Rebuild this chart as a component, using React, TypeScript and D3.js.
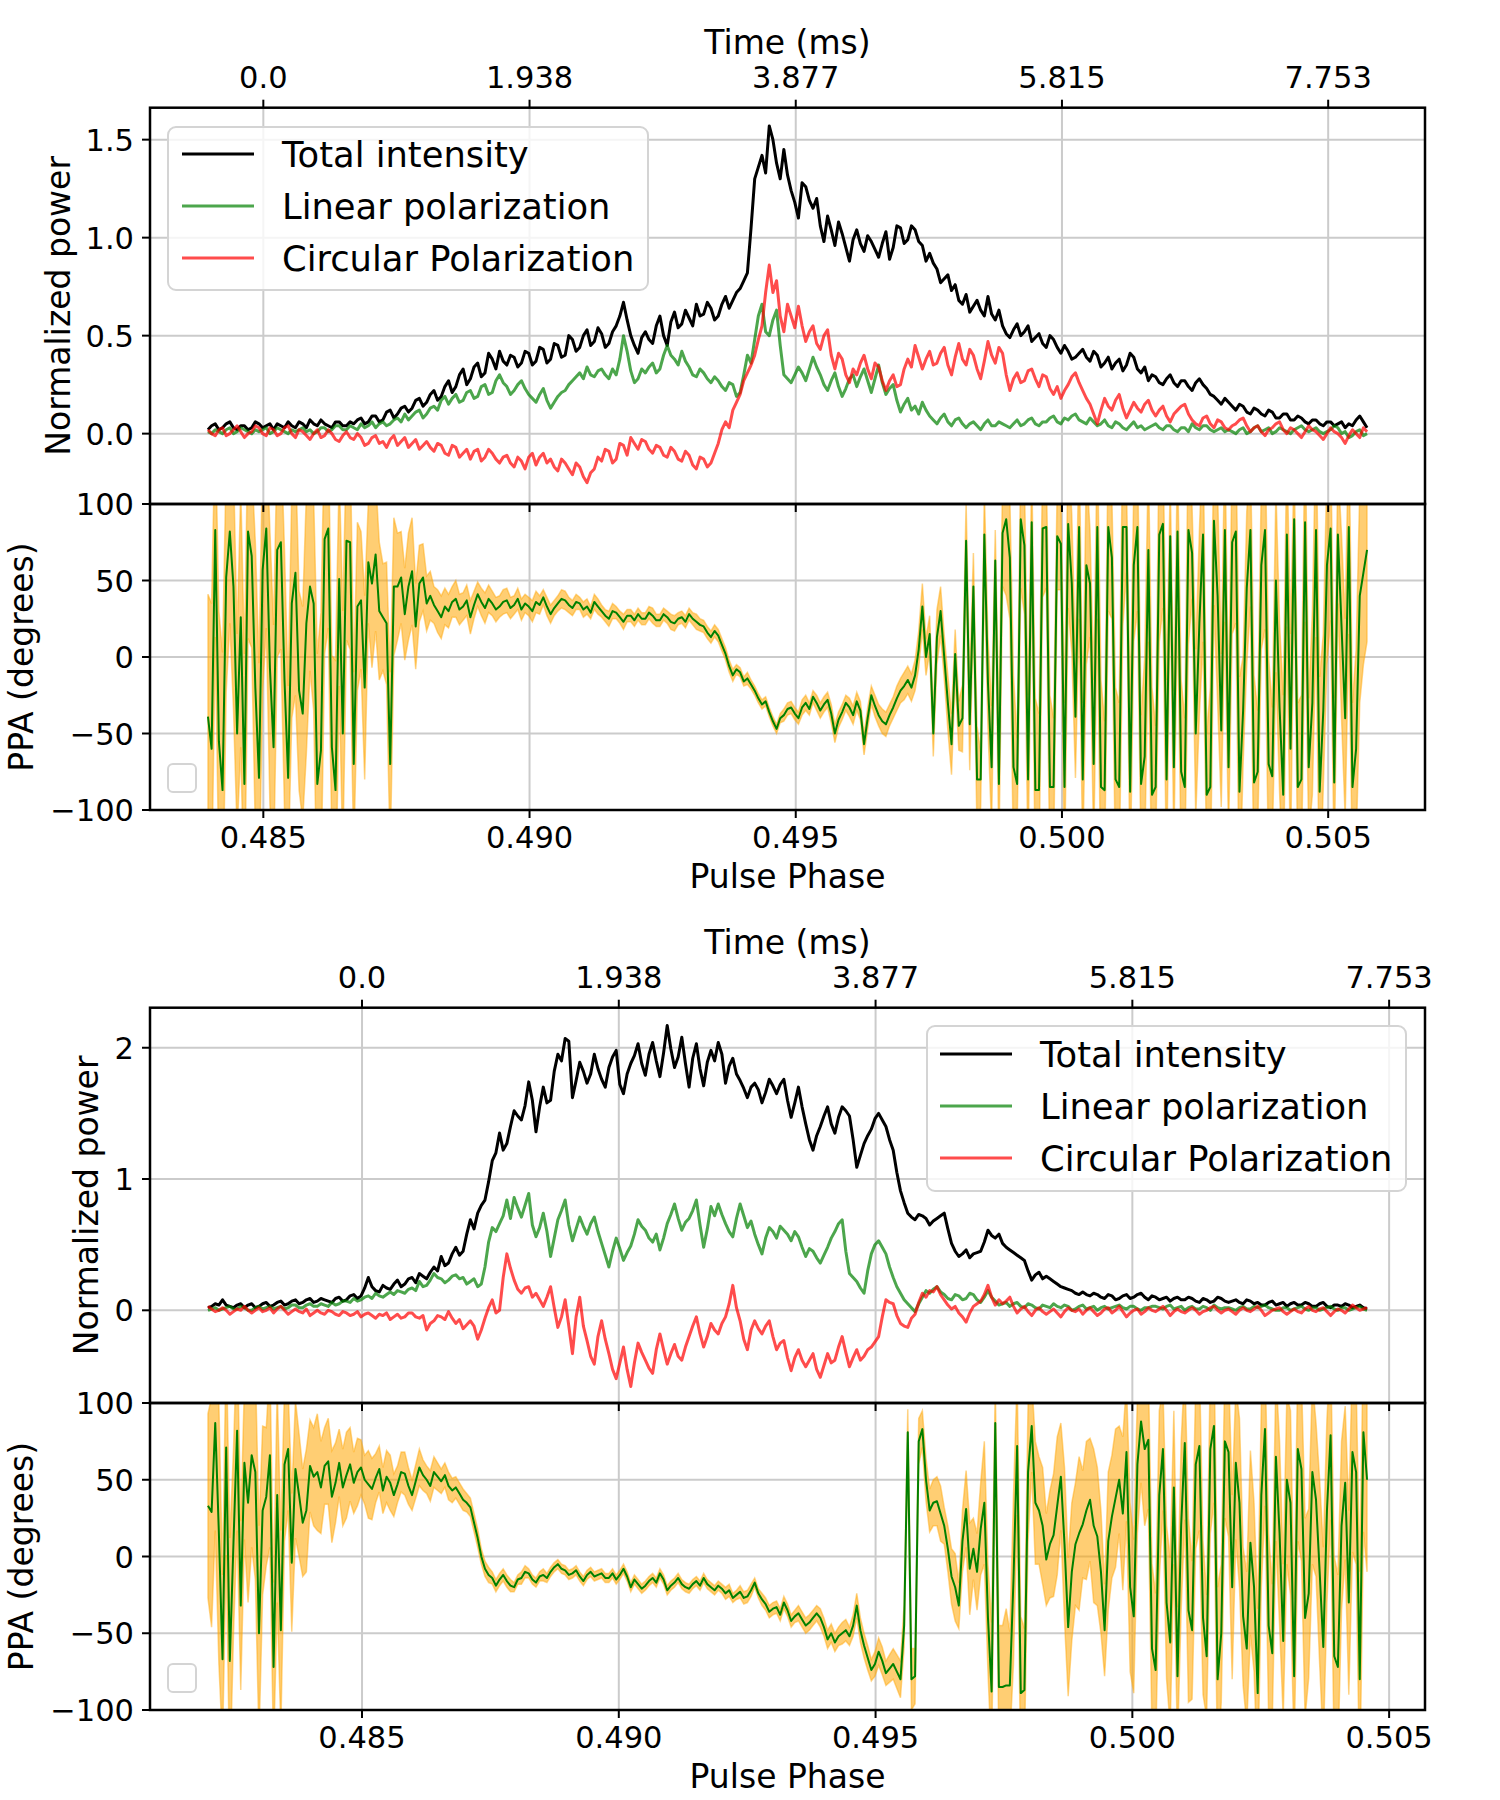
import * as d3 from "d3";
import { useEffect, useRef } from "react";

// ---------- data ----------
const SERIES_NAMES = ["Total intensity", "Linear polarization", "Circular Polarization"];
const PHASE_TICKS = [0.485, 0.49, 0.495, 0.5, 0.505];
const PHASE_TICK_LABELS = ["0.485", "0.490", "0.495", "0.500", "0.505"];
const TIME_TICK_LABELS = ["0.0", "1.938", "3.877", "5.815", "7.753"];
const PPA_TICKS = [-100, -50, 0, 50, 100];
const PPA_TICK_LABELS = ["\u2212100", "\u221250", "0", "50", "100"];

// upper figure
const TOP_PHASE_RANGE = [0.48396, 0.50573];
const TOP_POWER_DOMAIN = [-0.359, 1.663];
const TOP_POWER_TICKS = [0, 0.5, 1.0, 1.5];
const TOP_POWER_TICK_LABELS = ["0.0", "0.5", "1.0", "1.5"];

const TOP_I = [
  0.02, 0.04, 0.05, 0.02, 0.03, 0.05, 0.06, 0.03, 0.02, 0.04, 0.04, 0.02, 0.03, 0.06, 0.05, 0.03, 0.04, 0.05, 0.02, 0.05,
  0.04, 0.03, 0.06, 0.04, 0.03, 0.06, 0.05, 0.03, 0.07, 0.05, 0.04, 0.07, 0.05, 0.04, 0.03, 0.06, 0.06, 0.04, 0.04, 0.06,
  0.05, 0.07, 0.08, 0.05, 0.06, 0.09, 0.09, 0.06, 0.07, 0.11, 0.12, 0.08, 0.10, 0.13, 0.14, 0.11, 0.13, 0.17, 0.18, 0.14,
  0.16, 0.20, 0.22, 0.17, 0.19, 0.24, 0.27, 0.21, 0.24, 0.30, 0.33, 0.25, 0.28, 0.34, 0.36, 0.29, 0.31, 0.41, 0.38, 0.33,
  0.42, 0.37, 0.35, 0.40, 0.39, 0.34, 0.36, 0.42, 0.41, 0.35, 0.37, 0.44, 0.43, 0.36, 0.38, 0.46, 0.45, 0.39, 0.40, 0.50,
  0.48, 0.42, 0.44, 0.50, 0.53, 0.45, 0.47, 0.54, 0.51, 0.44, 0.46, 0.52, 0.55, 0.60, 0.67, 0.58, 0.50, 0.45, 0.41, 0.49,
  0.52, 0.48, 0.46, 0.55, 0.60, 0.50, 0.45, 0.57, 0.62, 0.54, 0.56, 0.63, 0.59, 0.55, 0.66, 0.60, 0.61, 0.67, 0.64, 0.58,
  0.60, 0.66, 0.70, 0.64, 0.68, 0.72, 0.74, 0.78, 0.82, 1.05, 1.30, 1.36, 1.42, 1.33, 1.57, 1.50, 1.38, 1.30, 1.45, 1.32,
  1.24, 1.18, 1.10, 1.28, 1.26, 1.19, 1.15, 1.20, 1.06, 0.98, 1.11, 1.04, 0.96, 1.08, 1.02, 0.95, 0.88, 0.99, 1.04, 0.97,
  0.93, 1.01, 0.98, 0.94, 0.90, 0.97, 1.03, 0.89, 0.95, 1.06, 1.05, 0.97, 0.99, 1.06, 1.04, 0.98, 0.96, 0.88, 0.92, 0.87,
  0.84, 0.77, 0.79, 0.81, 0.73, 0.76, 0.68, 0.66, 0.71, 0.62, 0.65, 0.68, 0.63, 0.60, 0.70, 0.61, 0.58, 0.63, 0.55, 0.51,
  0.49, 0.53, 0.56, 0.50, 0.52, 0.55, 0.47, 0.49, 0.51, 0.46, 0.44, 0.50, 0.48, 0.44, 0.41, 0.45, 0.42, 0.38, 0.39, 0.41,
  0.43, 0.39, 0.37, 0.42, 0.40, 0.34, 0.36, 0.39, 0.33, 0.36, 0.38, 0.32, 0.35, 0.41, 0.39, 0.33, 0.31, 0.34, 0.27, 0.30,
  0.29, 0.26, 0.25, 0.28, 0.30, 0.26, 0.24, 0.27, 0.27, 0.24, 0.22, 0.26, 0.28, 0.25, 0.23, 0.20, 0.19, 0.17, 0.15, 0.18,
  0.16, 0.14, 0.12, 0.15, 0.14, 0.11, 0.10, 0.13, 0.12, 0.10, 0.09, 0.12, 0.11, 0.08, 0.08, 0.10, 0.10, 0.07, 0.07, 0.09,
  0.08, 0.06, 0.05, 0.07, 0.07, 0.05, 0.04, 0.06, 0.06, 0.04, 0.05, 0.06, 0.03, 0.05, 0.04, 0.07, 0.09, 0.06, 0.03,
];

const TOP_L = [
  0.01, 0.00, 0.02, 0.01, 0.00, 0.02, 0.03, 0.00, 0.01, 0.03, 0.02, 0.01, 0.00, 0.02, 0.01, 0.02, 0.03, 0.00, 0.01, 0.03,
  0.02, 0.01, 0.00, 0.02, 0.01, 0.02, 0.03, 0.01, 0.02, 0.00, 0.01, 0.03, 0.03, 0.01, 0.02, 0.04, 0.04, 0.02, 0.02, 0.04,
  0.03, 0.02, 0.05, 0.03, 0.04, 0.06, 0.03, 0.05, 0.06, 0.04, 0.05, 0.07, 0.08, 0.06, 0.10, 0.07, 0.09, 0.11, 0.12, 0.08,
  0.10, 0.13, 0.14, 0.12, 0.17, 0.19, 0.15, 0.18, 0.20, 0.16, 0.17, 0.21, 0.22, 0.18, 0.19, 0.24, 0.25, 0.20, 0.21, 0.27,
  0.30, 0.26, 0.24, 0.20, 0.22, 0.25, 0.27, 0.23, 0.20, 0.18, 0.16, 0.20, 0.23, 0.17, 0.13, 0.16, 0.19, 0.21, 0.22, 0.25,
  0.27, 0.29, 0.31, 0.28, 0.34, 0.30, 0.29, 0.32, 0.33, 0.30, 0.28, 0.33, 0.30, 0.38, 0.50, 0.42, 0.32, 0.26, 0.28, 0.33,
  0.31, 0.34, 0.36, 0.31, 0.33, 0.40, 0.45, 0.40, 0.38, 0.35, 0.42, 0.37, 0.34, 0.30, 0.29, 0.33, 0.31, 0.28, 0.26, 0.29,
  0.27, 0.24, 0.22, 0.26, 0.25, 0.19, 0.21, 0.30, 0.40, 0.36, 0.48, 0.60, 0.66, 0.52, 0.50, 0.58, 0.63, 0.45, 0.30, 0.28,
  0.26, 0.30, 0.34, 0.31, 0.27, 0.33, 0.39, 0.34, 0.30, 0.25, 0.22, 0.27, 0.31, 0.24, 0.19, 0.23, 0.28, 0.30, 0.24, 0.29,
  0.33, 0.27, 0.21, 0.28, 0.35, 0.26, 0.20, 0.23, 0.25, 0.17, 0.11, 0.15, 0.18, 0.12, 0.14, 0.10, 0.16, 0.12, 0.09, 0.07,
  0.05, 0.08, 0.10, 0.06, 0.04, 0.07, 0.08, 0.05, 0.03, 0.05, 0.06, 0.04, 0.02, 0.05, 0.07, 0.04, 0.04, 0.06, 0.05, 0.04,
  0.03, 0.05, 0.07, 0.04, 0.05, 0.07, 0.08, 0.05, 0.04, 0.06, 0.06, 0.08, 0.09, 0.06, 0.05, 0.08, 0.07, 0.09, 0.10, 0.07,
  0.06, 0.05, 0.08, 0.06, 0.04, 0.05, 0.07, 0.04, 0.03, 0.06, 0.05, 0.03, 0.02, 0.04, 0.06, 0.03, 0.04, 0.02, 0.03, 0.04,
  0.05, 0.03, 0.02, 0.04, 0.04, 0.02, 0.01, 0.03, 0.03, 0.01, 0.05, 0.03, 0.02, 0.04, 0.04, 0.02, 0.01, 0.02, 0.03, 0.01,
  0.02, 0.01, 0.00, 0.02, 0.03, 0.00, 0.01, 0.03, 0.04, 0.01, 0.02, 0.03, 0.00, 0.01, 0.03, 0.02, 0.01, 0.00, 0.02, 0.03,
  0.04, 0.02, 0.01, 0.02, 0.03, 0.01, 0.00, 0.01, 0.02, 0.04, 0.03, 0.00, 0.01, -0.02, -0.01, 0.01, 0.02, -0.01, 0.00,
];

const TOP_V = [
  0.02, 0.00, -0.01, 0.02, 0.03, -0.01, 0.00, 0.02, 0.04, 0.01, -0.02, 0.00, 0.01, 0.04, 0.03, 0.00, -0.01, 0.03, 0.02, -0.01,
  0.00, 0.03, 0.04, 0.00, -0.02, 0.02, 0.01, -0.01, -0.03, 0.00, 0.02, -0.02, -0.01, 0.02, 0.00, -0.03, -0.04, -0.01, 0.01, -0.02,
  -0.03, 0.00, -0.02, -0.06, -0.05, -0.02, -0.01, -0.05, -0.04, -0.07, -0.03, -0.01, -0.06, -0.04, -0.02, -0.07, -0.05, -0.03, -0.08, -0.06,
  -0.04, -0.07, -0.09, -0.05, -0.06, -0.10, -0.11, -0.06, -0.07, -0.12, -0.10, -0.08, -0.13, -0.09, -0.08, -0.14, -0.12, -0.08, -0.10, -0.13,
  -0.15, -0.12, -0.11, -0.15, -0.17, -0.12, -0.14, -0.18, -0.12, -0.10, -0.16, -0.12, -0.10, -0.15, -0.13, -0.17, -0.19, -0.13, -0.15, -0.18,
  -0.21, -0.15, -0.17, -0.22, -0.25, -0.20, -0.18, -0.12, -0.14, -0.08, -0.09, -0.15, -0.13, -0.05, -0.06, -0.11, -0.02, -0.05, -0.08, -0.03,
  -0.04, -0.08, -0.10, -0.06, -0.07, -0.11, -0.12, -0.07, -0.09, -0.13, -0.14, -0.09, -0.11, -0.16, -0.18, -0.12, -0.13, -0.17, -0.15, -0.10,
  -0.05, 0.02, 0.06, 0.03, 0.12, 0.16, 0.20, 0.27, 0.31, 0.35, 0.40, 0.48, 0.55, 0.72, 0.86, 0.72, 0.78, 0.60, 0.52, 0.66,
  0.60, 0.54, 0.65, 0.55, 0.47, 0.52, 0.55, 0.46, 0.43, 0.50, 0.53, 0.40, 0.33, 0.41, 0.38, 0.30, 0.26, 0.33, 0.30, 0.36,
  0.40, 0.33, 0.28, 0.36, 0.34, 0.27, 0.22, 0.27, 0.30, 0.24, 0.25, 0.33, 0.38, 0.34, 0.45, 0.39, 0.33, 0.38, 0.42, 0.35,
  0.36, 0.41, 0.44, 0.35, 0.30, 0.39, 0.46, 0.38, 0.35, 0.43, 0.40, 0.33, 0.28, 0.37, 0.47, 0.40, 0.36, 0.44, 0.41, 0.30,
  0.22, 0.28, 0.31, 0.26, 0.27, 0.32, 0.33, 0.28, 0.24, 0.30, 0.29, 0.23, 0.20, 0.24, 0.18, 0.22, 0.25, 0.29, 0.31, 0.26,
  0.22, 0.18, 0.15, 0.10, 0.05, 0.12, 0.18, 0.14, 0.12, 0.17, 0.20, 0.13, 0.08, 0.12, 0.16, 0.13, 0.11, 0.15, 0.17, 0.12,
  0.09, 0.12, 0.14, 0.09, 0.06, 0.10, 0.12, 0.14, 0.15, 0.10, 0.07, 0.05, 0.04, 0.08, 0.09, 0.05, 0.03, 0.07, 0.06, 0.03,
  0.02, 0.04, 0.05, 0.07, 0.08, 0.04, 0.01, 0.03, 0.04, 0.01, -0.01, 0.02, 0.03, 0.05, 0.06, 0.02, 0.00, 0.03, 0.02, 0.00,
  -0.02, 0.01, 0.04, 0.02, 0.01, -0.01, -0.03, 0.00, 0.03, 0.01, 0.00, -0.02, -0.05, -0.01, 0.02, 0.00, -0.02, 0.03, 0.01,
];

const TOP_PPA = [
  -39, -60, 83, -55, -87, 52, 82, 46, -50, 26, -83, 82, 66, -20, -79, 57, 84, -7, -59, 70,
  75, -15, -79, 35, 55, -22, -37, 22, 46, 35, -83, -61, 77, 84, -59, -87, 51, -50, 76, 75,
  -70, 33, 37, -20, 62, 48, 67, 30, 26, 22, -70, 46, 46, 52, 28, 46, 56, 20, 48, 52,
  35, 40, 34, 30, 26, 33, 30, 36, 38, 31, 33, 37, 26, 34, 41, 36, 32, 38, 35, 31,
  33, 36, 37, 32, 34, 38, 31, 35, 33, 30, 36, 34, 39, 33, 28, 32, 35, 38, 37, 34,
  32, 36, 35, 31, 33, 29, 36, 33, 30, 27, 25, 30, 29, 26, 23, 27, 27, 24, 28, 25,
  25, 29, 27, 24, 24, 28, 26, 23, 22, 25, 26, 23, 28, 25, 23, 21, 20, 16, 13, 17,
  14, 8, 2, -6, -12, -8, -10, -16, -14, -18, -22, -27, -31, -29, -36, -42, -47, -40, -38, -34,
  -33, -37, -40, -33, -30, -34, -26, -30, -35, -31, -28, -37, -50, -41, -36, -30, -33, -38, -29, -35,
  -57, -40, -25, -32, -38, -42, -44, -38, -33, -27, -22, -19, -15, -20, -12, 5, 33, 0, 15, -50,
  13, 30, 0, -30, -57, 2, -45, -40, 76, -44, 46, -80, -80, 80, -17, -72, 63, -83, 81, 90,
  65, -72, -83, 90, 73, -80, 88, -87, -87, 84, 85, -85, -85, 79, 74, -85, 87, 48, -39, 85,
  -80, 60, 48, -70, 85, -85, -87, 85, 65, -80, -85, 85, 85, -88, 60, 85, -83, -65, 70, -90,
  -85, 80, 87, -80, 79, -72, 82, -75, -85, 83, 68, -50, 22, 80, -90, -85, 89, 40, -48, 83,
  -72, 75, 82, -88, -35, 45, 83, -82, -75, 60, 83, -70, -78, 50, -33, -90, 80, -60, 90, -85,
  -80, 88, -72, -30, 83, -88, -35, 60, 84, -82, 80, 20, -40, 85, -85, -60, 40, 55, 70,
];

const TOP_PPA_ERR = [
  80, 95, 70, 85, 90, 75, 60, 80, 65, 85, 85, 70, 60, 95, 75, 80, 65, 90, 80, 70,
  70, 85, 60, 75, 80, 65, 70, 85, 55, 70, 85, 90, 75, 65, 60, 85, 70, 80, 65, 70,
  60, 55, 45, 60, 40, 55, 50, 45, 35, 40, 60, 45, 35, 30, 30, 35, 35, 28, 25, 22,
  18, 16, 12, 14, 14, 12, 11, 10, 12, 10, 9, 10, 11, 9, 8, 9, 10, 9, 8, 8,
  7, 8, 8, 7, 6, 7, 7, 6, 6, 7, 7, 6, 5, 6, 6, 5, 5, 6, 6, 5,
  5, 5, 4, 5, 5, 4, 5, 5, 4, 4, 5, 5, 4, 4, 5, 4, 4, 4, 4, 4,
  4, 4, 5, 4, 4, 4, 4, 5, 5, 4, 4, 4, 4, 4, 5, 4, 4, 4, 4, 4,
  4, 4, 4, 4, 4, 3, 3, 3, 4, 3, 3, 3, 3, 3, 3, 3, 3, 3, 4, 4,
  4, 4, 4, 5, 5, 4, 4, 5, 5, 5, 5, 6, 6, 5, 5, 5, 6, 6, 6, 6,
  7, 7, 6, 7, 7, 8, 8, 7, 7, 8, 8, 9, 9, 9, 10, 12, 15, 12, 12, 15,
  18, 16, 14, 18, 20, 16, 16, 22, 25, 30, 22, 35, 18, 30, 30, 40, 20, 45, 35, 50,
  40, 60, 30, 45, 45, 55, 35, 60, 50, 45, 40, 60, 45, 35, 30, 55, 55, 45, 40, 60,
  50, 65, 35, 55, 60, 70, 45, 55, 40, 60, 55, 65, 30, 60, 50, 55, 45, 65, 60, 70,
  40, 70, 55, 65, 35, 50, 50, 60, 45, 75, 30, 55, 60, 70, 40, 65, 55, 70, 50, 60,
  45, 60, 60, 75, 35, 50, 50, 70, 40, 55, 65, 70, 45, 60, 55, 65, 60, 75, 40, 55,
  55, 65, 45, 60, 70, 75, 50, 65, 60, 55, 45, 60, 65, 70, 55, 65, 70, 60, 60,
];

// lower figure
const BOT_PHASE_RANGE = [0.482, 0.50457];
const BOT_POWER_DOMAIN = [-0.706, 2.305];
const BOT_POWER_TICKS = [0, 1, 2];
const BOT_POWER_TICK_LABELS = ["0", "1", "2"];

const BOT_I = [
  0.02, 0.03, 0.05, 0.04, 0.08, 0.04, 0.03, 0.02, 0.04, 0.05, 0.02, 0.04, 0.05, 0.02, 0.03, 0.05, 0.06, 0.03, 0.04, 0.06,
  0.07, 0.04, 0.05, 0.07, 0.08, 0.05, 0.06, 0.08, 0.09, 0.06, 0.07, 0.09, 0.08, 0.07, 0.06, 0.09, 0.10, 0.07, 0.08, 0.11,
  0.12, 0.09, 0.11, 0.17, 0.25, 0.18, 0.15, 0.14, 0.19, 0.17, 0.16, 0.20, 0.23, 0.18, 0.20, 0.24, 0.25, 0.21, 0.28, 0.26,
  0.24, 0.29, 0.33, 0.30, 0.41, 0.34, 0.36, 0.43, 0.48, 0.42, 0.45, 0.58, 0.69, 0.62, 0.74, 0.80, 0.84, 0.98, 1.14, 1.20,
  1.35, 1.22, 1.27, 1.40, 1.52, 1.48, 1.45, 1.56, 1.74, 1.60, 1.36, 1.55, 1.70, 1.58, 1.60, 1.82, 1.95, 1.90, 2.07, 2.05,
  1.62, 1.75, 1.89, 1.82, 1.73, 1.80, 1.95, 1.84, 1.76, 1.70, 1.85, 1.93, 1.98, 1.72, 1.65, 1.80, 1.88, 1.94, 2.03, 1.88,
  1.79, 1.95, 2.04, 1.90, 1.78, 1.96, 2.17, 1.99, 1.85, 1.93, 2.08, 1.88, 1.70, 1.92, 2.03, 1.84, 1.71, 1.89, 1.98, 1.90,
  2.04, 1.95, 1.73, 1.86, 1.92, 1.80, 1.75, 1.69, 1.62, 1.70, 1.73, 1.68, 1.58, 1.66, 1.76, 1.71, 1.65, 1.72, 1.76, 1.60,
  1.47, 1.58, 1.70, 1.55, 1.42, 1.30, 1.22, 1.33, 1.40, 1.48, 1.55, 1.42, 1.35, 1.47, 1.55, 1.52, 1.48, 1.30, 1.09, 1.18,
  1.27, 1.33, 1.38, 1.46, 1.50, 1.45, 1.40, 1.30, 1.22, 1.05, 0.91, 0.82, 0.74, 0.71, 0.69, 0.73, 0.72, 0.70, 0.65, 0.68,
  0.70, 0.72, 0.74, 0.62, 0.51, 0.45, 0.41, 0.43, 0.46, 0.40, 0.43, 0.44, 0.45, 0.52, 0.61, 0.57, 0.55, 0.58, 0.51, 0.48,
  0.46, 0.44, 0.42, 0.40, 0.38, 0.30, 0.23, 0.27, 0.29, 0.24, 0.26, 0.24, 0.22, 0.20, 0.18, 0.17, 0.16, 0.15, 0.13, 0.12,
  0.14, 0.12, 0.11, 0.13, 0.12, 0.10, 0.09, 0.12, 0.11, 0.08, 0.09, 0.11, 0.12, 0.09, 0.10, 0.12, 0.13, 0.10, 0.08, 0.11,
  0.10, 0.08, 0.09, 0.10, 0.07, 0.09, 0.10, 0.08, 0.08, 0.10, 0.09, 0.07, 0.06, 0.09, 0.08, 0.06, 0.07, 0.10, 0.09, 0.07,
  0.06, 0.07, 0.08, 0.06, 0.05, 0.08, 0.07, 0.05, 0.06, 0.04, 0.04, 0.06, 0.07, 0.04, 0.05, 0.06, 0.03, 0.05, 0.06, 0.04,
  0.04, 0.06, 0.05, 0.03, 0.03, 0.05, 0.06, 0.03, 0.02, 0.04, 0.04, 0.03, 0.05, 0.04, 0.02, 0.03, 0.04, 0.02, 0.01,
];

const BOT_L = [
  0.00, 0.01, 0.02, 0.00, 0.01, 0.02, 0.03, 0.01, 0.01, 0.03, 0.02, 0.00, 0.00, 0.02, 0.03, 0.01, 0.02, 0.03, 0.01, 0.02,
  0.03, 0.01, 0.02, 0.04, 0.04, 0.02, 0.02, 0.04, 0.05, 0.03, 0.03, 0.05, 0.04, 0.03, 0.06, 0.04, 0.05, 0.07, 0.07, 0.06,
  0.09, 0.07, 0.08, 0.10, 0.11, 0.09, 0.13, 0.11, 0.10, 0.12, 0.14, 0.12, 0.15, 0.14, 0.13, 0.16, 0.17, 0.15, 0.22, 0.18,
  0.19, 0.23, 0.28, 0.25, 0.24, 0.21, 0.23, 0.26, 0.27, 0.24, 0.25, 0.20, 0.22, 0.24, 0.18, 0.20, 0.33, 0.52, 0.63, 0.60,
  0.66, 0.72, 0.84, 0.70, 0.86, 0.78, 0.71, 0.80, 0.89, 0.65, 0.56, 0.63, 0.74, 0.60, 0.41, 0.55, 0.69, 0.76, 0.84, 0.65,
  0.53, 0.62, 0.71, 0.64, 0.58, 0.66, 0.71, 0.60, 0.51, 0.42, 0.33, 0.45, 0.55, 0.47, 0.38, 0.44, 0.49, 0.58, 0.69, 0.64,
  0.61, 0.55, 0.52, 0.58, 0.46, 0.55, 0.66, 0.73, 0.81, 0.70, 0.61, 0.67, 0.70, 0.76, 0.84, 0.65, 0.48, 0.62, 0.79, 0.72,
  0.81, 0.73, 0.66, 0.60, 0.56, 0.70, 0.81, 0.72, 0.63, 0.68, 0.58, 0.50, 0.43, 0.55, 0.63, 0.60, 0.55, 0.64, 0.61, 0.58,
  0.53, 0.60, 0.56, 0.48, 0.41, 0.47, 0.45, 0.40, 0.36, 0.42, 0.48, 0.55, 0.60, 0.66, 0.69, 0.45, 0.28, 0.25, 0.22, 0.17,
  0.13, 0.30, 0.43, 0.50, 0.53, 0.48, 0.43, 0.33, 0.25, 0.18, 0.13, 0.08, 0.05, 0.02, -0.01, 0.05, 0.10, 0.15, 0.13, 0.16,
  0.18, 0.14, 0.12, 0.09, 0.08, 0.12, 0.11, 0.08, 0.09, 0.13, 0.12, 0.08, 0.06, 0.10, 0.15, 0.10, 0.07, 0.04, 0.05, 0.06,
  0.03, 0.05, 0.06, 0.03, 0.02, 0.05, 0.04, 0.02, 0.01, 0.04, 0.03, 0.02, 0.05, 0.03, 0.02, 0.04, 0.03, 0.00, 0.01, 0.03,
  0.04, 0.01, 0.02, 0.03, 0.00, 0.02, 0.03, 0.01, 0.02, 0.03, 0.04, 0.02, 0.01, 0.03, 0.03, 0.01, 0.00, 0.02, 0.02, 0.03,
  0.03, 0.02, 0.01, 0.03, 0.04, 0.01, 0.02, 0.03, 0.00, 0.02, 0.03, 0.01, 0.01, 0.03, 0.02, 0.00, 0.04, 0.02, 0.01, 0.02,
  0.02, 0.01, 0.00, 0.02, 0.03, 0.01, 0.01, 0.03, 0.02, 0.03, 0.04, 0.02, 0.01, 0.00, 0.00, 0.02, 0.02, 0.00, 0.01, 0.02,
  0.03, 0.01, 0.00, 0.02, 0.02, 0.00, 0.01, 0.02, 0.03, 0.01, 0.00, 0.02, 0.02, 0.00, 0.01, 0.02, 0.03, 0.01, 0.00,
];

const BOT_V = [
  0.03, 0.01, -0.01, 0.00, 0.02, 0.00, -0.03, -0.01, 0.01, 0.00, 0.03, 0.00, -0.02, 0.00, 0.02, -0.01, 0.00, 0.02, -0.02, 0.01,
  0.03, 0.00, -0.03, -0.01, 0.01, -0.01, -0.02, 0.01, -0.04, -0.02, 0.00, -0.02, -0.03, 0.00, -0.01, -0.03, -0.04, -0.01, -0.02, -0.04,
  -0.03, -0.01, -0.05, -0.03, -0.02, -0.04, -0.06, -0.03, -0.04, -0.02, -0.07, -0.05, -0.03, -0.06, -0.05, -0.02, -0.02, -0.05, -0.06, -0.04,
  -0.15, -0.10, -0.08, -0.04, -0.05, -0.07, -0.01, -0.06, -0.10, -0.07, -0.14, -0.11, -0.08, -0.12, -0.22, -0.15, -0.06, 0.02, 0.08, -0.02,
  0.00, 0.25, 0.43, 0.32, 0.23, 0.16, 0.13, 0.17, 0.18, 0.10, 0.13, 0.08, 0.03, 0.10, 0.18, 0.02, -0.13, -0.05, 0.08, -0.12,
  -0.33, -0.05, 0.10, -0.12, -0.23, -0.35, -0.41, -0.20, -0.08, -0.22, -0.33, -0.45, -0.52, -0.40, -0.28, -0.45, -0.58, -0.40, -0.25, -0.32,
  -0.38, -0.44, -0.48, -0.30, -0.18, -0.30, -0.41, -0.33, -0.26, -0.35, -0.38, -0.28, -0.20, -0.12, -0.05, -0.18, -0.28, -0.20, -0.10, -0.15,
  -0.18, -0.10, -0.05, 0.05, 0.19, 0.02, -0.08, -0.22, -0.30, -0.15, -0.08, -0.14, -0.18, -0.12, -0.08, -0.20, -0.30, -0.25, -0.23, -0.36,
  -0.46, -0.36, -0.30, -0.38, -0.43, -0.38, -0.33, -0.45, -0.51, -0.42, -0.33, -0.40, -0.38, -0.28, -0.20, -0.32, -0.43, -0.36, -0.30, -0.38,
  -0.35, -0.30, -0.28, -0.24, -0.20, -0.05, 0.08, 0.06, 0.05, -0.04, -0.10, -0.12, -0.13, -0.06, -0.03, 0.06, 0.13, 0.10, 0.15, 0.14,
  0.18, 0.12, 0.08, 0.04, 0.01, 0.03, -0.02, -0.05, -0.09, -0.02, 0.03, 0.05, 0.07, 0.12, 0.19, 0.10, 0.04, 0.08, 0.05, 0.07,
  0.10, 0.03, -0.02, 0.01, 0.03, -0.01, -0.04, 0.00, 0.02, -0.01, -0.03, -0.01, 0.01, -0.02, -0.05, -0.01, 0.02, 0.00, -0.01, 0.01,
  -0.03, 0.00, 0.02, -0.01, -0.04, -0.02, 0.01, 0.02, -0.02, 0.00, 0.03, -0.01, -0.05, -0.02, 0.00, 0.01, -0.03, -0.01, 0.02, 0.00,
  -0.01, 0.01, 0.03, 0.00, -0.04, -0.01, 0.01, -0.01, -0.02, 0.00, 0.02, 0.00, -0.03, -0.01, 0.00, 0.02, 0.03, 0.00, -0.02, 0.00,
  0.01, -0.01, -0.03, 0.00, 0.02, 0.00, -0.01, 0.01, 0.03, 0.00, -0.04, -0.02, 0.00, 0.01, 0.02, -0.01, -0.03, -0.01, 0.01, -0.01,
  -0.02, 0.01, 0.03, 0.00, -0.01, 0.01, 0.02, -0.01, -0.04, -0.01, 0.01, 0.00, -0.02, 0.01, 0.04, 0.02, 0.00, 0.01, 0.02,
];

const BOT_PPA = [
  33, 29, 87, 15, -67, 71, -68, 9, 82, -32, 61, 35, 66, 55, -50, 30, 39, 66, -72, 40,
  -48, 60, 70, -4, 57, 40, 22, 30, 59, 52, 55, 45, 59, 62, 39, 48, 61, 45, 53, 60,
  48, 55, 58, 50, 47, 44, 51, 57, 43, 52, 48, 40, 47, 55, 54, 46, 40, 49, 58, 53,
  50, 46, 55, 52, 49, 53, 46, 43, 45, 41, 37, 35, 32, 22, 12, 0, -8, -12, -14, -19,
  -15, -12, -16, -19, -20, -15, -14, -10, -11, -15, -17, -13, -12, -14, -10, -7, -5, -8, -9, -12,
  -11, -9, -13, -16, -12, -10, -13, -12, -11, -14, -14, -11, -15, -12, -8, -13, -20, -15, -18, -21,
  -19, -16, -14, -17, -11, -15, -22, -19, -17, -14, -18, -20, -21, -18, -16, -19, -14, -18, -20, -22,
  -19, -21, -24, -22, -27, -25, -23, -27, -26, -22, -17, -24, -28, -31, -36, -34, -33, -38, -30, -35,
  -42, -39, -37, -41, -45, -43, -40, -37, -40, -46, -54, -50, -56, -52, -50, -48, -52, -45, -32, -48,
  -58, -66, -74, -70, -62, -68, -76, -73, -70, -75, -80, -45, 81, -80, -78, 75, 83, 50, 30, 35,
  36, 28, 20, 5, -13, -20, -32, 10, 31, -8, 5, -10, 18, 35, -40, -88, 87, -85, -85, -84,
  -84, -15, 72, -89, -87, 55, 85, 35, 30, 20, -2, 8, 14, 33, 52, 8, -46, -10, 8, 15,
  21, 30, 37, 20, 13, -10, -48, 10, 26, 38, 50, 28, 68, -20, -39, 60, 88, 70, 76, -60,
  -74, 40, 70, -30, -56, 45, -78, 20, 74, -35, -48, 60, 72, -40, -65, 70, 85, -80, -50, 75,
  68, -20, 61, 35, -39, -60, 9, -20, -89, 40, 83, -45, -63, 65, 15, -55, 50, 35, -78, 70,
  57, -40, -24, 55, 37, -10, -59, 30, 79, -65, -72, 20, 48, -30, 68, 55, -80, 81, 50,
];

const BOT_PPA_ERR = [
  60, 75, 70, 85, 55, 70, 80, 60, 65, 55, 50, 65, 60, 70, 70, 55, 45, 60, 55, 70,
  65, 50, 40, 45, 45, 40, 35, 40, 30, 32, 38, 30, 25, 28, 30, 26, 22, 25, 28, 24,
  20, 22, 18, 16, 22, 20, 16, 15, 15, 17, 18, 14, 12, 13, 14, 12, 10, 11, 12, 10,
  9, 10, 10, 9, 8, 8, 9, 8, 7, 7, 7, 6, 6, 6, 6, 5, 5, 5, 4, 4,
  4, 4, 4, 4, 3, 3, 4, 4, 3, 3, 3, 3, 4, 3, 3, 3, 3, 3, 3, 3,
  3, 3, 3, 3, 3, 3, 3, 3, 3, 3, 3, 3, 3, 3, 3, 3, 3, 3, 3, 3,
  3, 3, 3, 3, 3, 3, 3, 3, 3, 3, 3, 3, 3, 3, 3, 3, 3, 3, 3, 3,
  3, 3, 4, 4, 3, 3, 4, 4, 4, 4, 3, 3, 4, 4, 4, 4, 4, 4, 4, 4,
  4, 4, 5, 5, 5, 5, 5, 5, 6, 6, 6, 6, 6, 6, 7, 7, 6, 7, 8, 8,
  8, 8, 7, 8, 9, 9, 8, 9, 10, 11, 12, 14, 15, 20, 18, 15, 12, 14, 14, 15,
  16, 18, 12, 15, 18, 22, 15, 20, 25, 30, 20, 25, 30, 40, 35, 45, 25, 40, 40, 50,
  35, 55, 45, 50, 40, 45, 30, 40, 35, 38, 30, 35, 40, 45, 35, 50, 45, 45, 40, 50,
  35, 45, 40, 50, 45, 40, 30, 45, 40, 45, 35, 50, 45, 55, 50, 45, 40, 50, 45, 55,
  50, 55, 40, 50, 55, 50, 45, 55, 50, 60, 45, 55, 55, 50, 40, 55, 50, 60, 45, 50,
  55, 60, 50, 55, 45, 50, 60, 55, 55, 60, 50, 60, 45, 55, 60, 50, 55, 60, 50, 60,
  60, 65, 55, 60, 50, 60, 65, 60, 55, 65, 60, 55, 50, 60, 65, 60, 70, 65, 60,
];

// ---------- layout ----------
const W = 1500;
const H = 1800;
const LEFT = 150;
const RIGHT = 1425;
const TICK = 8;
const FONT = "'DejaVu Sans', Verdana, sans-serif";
const TICK_FS = 30.5;
const LABEL_FS = 33;
const LEGEND_FS = 35.3;

interface Fig {
  id: string;
  phaseRange: number[];
  I: number[];
  L: number[];
  V: number[];
  ppa: number[];
  err: number[];
  powerDomain: number[];
  powerTicks: number[];
  powerTickLabels: string[];
  powerTop: number;
  split: number;
  ppaBottom: number;
  timeLabelY: number;
  timeTickY: number;
  phaseTickY: number;
  phaseLabelY: number;
  powerLabelX: number;
  ppaLabelX: number;
  legend: { x: number; y: number; w: number; h: number; lineX: number; textX: number; rows: number[] };
  emptyLegend: { x: number; y: number };
}

const TOP_FIG: Fig = {
  id: "top",
  phaseRange: TOP_PHASE_RANGE,
  I: TOP_I,
  L: TOP_L,
  V: TOP_V,
  ppa: TOP_PPA,
  err: TOP_PPA_ERR,
  powerDomain: TOP_POWER_DOMAIN,
  powerTicks: TOP_POWER_TICKS,
  powerTickLabels: TOP_POWER_TICK_LABELS,
  powerTop: 107.7,
  split: 504,
  ppaBottom: 810,
  timeLabelY: 42,
  timeTickY: 76.5,
  phaseTickY: 837,
  phaseLabelY: 876,
  powerLabelX: 70,
  ppaLabelX: 33,
  legend: { x: 168, y: 127, w: 480, h: 163, lineX: 182, textX: 282, rows: [154, 206, 258] },
  emptyLegend: { x: 168, y: 764 },
};

const BOTTOM_FIG: Fig = {
  id: "bot",
  phaseRange: BOT_PHASE_RANGE,
  I: BOT_I,
  L: BOT_L,
  V: BOT_V,
  ppa: BOT_PPA,
  err: BOT_PPA_ERR,
  powerDomain: BOT_POWER_DOMAIN,
  powerTicks: BOT_POWER_TICKS,
  powerTickLabels: BOT_POWER_TICK_LABELS,
  powerTop: 1007.7,
  split: 1403,
  ppaBottom: 1710,
  timeLabelY: 942,
  timeTickY: 976.5,
  phaseTickY: 1737,
  phaseLabelY: 1776,
  powerLabelX: 98,
  ppaLabelX: 33,
  legend: { x: 927, y: 1026, w: 479, h: 165, lineX: 940, textX: 1040, rows: [1054, 1106, 1158] },
  emptyLegend: { x: 168, y: 1664 },
};

const SERIES_STYLE = [
  { color: "#000000", opacity: 1 },
  { color: "#008000", opacity: 0.7 },
  { color: "#ff0000", opacity: 0.7 },
];

function drawFigure(svg: any, f: Fig) {
  const n = f.I.length;
  const [p0, p1] = f.phaseRange;
  const phases = d3.range(n).map((i) => p0 + ((p1 - p0) * i) / (n - 1));
  const pad = 0.05 * (p1 - p0);

  const x = d3.scaleLinear().domain([p0 - pad, p1 + pad]).range([LEFT, RIGHT]);
  const yPow = d3.scaleLinear().domain(f.powerDomain).range([f.split, f.powerTop]);
  const yPpa = d3.scaleLinear().domain([-100, 100]).range([f.ppaBottom, f.split]);

  const g = svg.append("g").attr("font-family", FONT).attr("fill", "#000");

  const defs = g.append("defs");
  defs
    .append("clipPath")
    .attr("id", `${f.id}-pow`)
    .append("rect")
    .attr("x", LEFT)
    .attr("y", f.powerTop)
    .attr("width", RIGHT - LEFT)
    .attr("height", f.split - f.powerTop);
  defs
    .append("clipPath")
    .attr("id", `${f.id}-ppa`)
    .append("rect")
    .attr("x", LEFT)
    .attr("y", f.split)
    .attr("width", RIGHT - LEFT)
    .attr("height", f.ppaBottom - f.split);

  // grid
  const grid = g.append("g").attr("stroke", "#cbcbcb").attr("stroke-width", 2);
  PHASE_TICKS.forEach((p) => {
    grid.append("line").attr("x1", x(p)).attr("x2", x(p)).attr("y1", f.powerTop).attr("y2", f.ppaBottom);
  });
  f.powerTicks.forEach((v) => {
    grid.append("line").attr("x1", LEFT).attr("x2", RIGHT).attr("y1", yPow(v)).attr("y2", yPow(v));
  });
  PPA_TICKS.forEach((v) => {
    grid.append("line").attr("x1", LEFT).attr("x2", RIGHT).attr("y1", yPpa(v)).attr("y2", yPpa(v));
  });

  // power profiles
  const pow = g
    .append("g")
    .attr("clip-path", `url(#${f.id}-pow)`)
    .attr("fill", "none")
    .attr("stroke-linejoin", "round");
  const line = d3
    .line<number>()
    .x((_, i) => x(phases[i]))
    .y((d) => yPow(d));
  [f.I, f.L, f.V].forEach((s, k) => {
    pow
      .append("path")
      .attr("d", line(s))
      .attr("stroke", SERIES_STYLE[k].color)
      .attr("stroke-opacity", SERIES_STYLE[k].opacity)
      .attr("stroke-width", 3);
  });

  // PPA with error band
  const ppaG = g.append("g").attr("clip-path", `url(#${f.id}-ppa)`);
  const band = d3
    .area<number>()
    .x((_, i) => x(phases[i]))
    .y0((d, i) => yPpa(d - f.err[i]))
    .y1((d, i) => yPpa(d + f.err[i]));
  ppaG
    .append("path")
    .attr("d", band(f.ppa))
    .attr("fill", "#ffa500")
    .attr("fill-opacity", 0.55)
    .attr("stroke", "#ffa500")
    .attr("stroke-opacity", 0.45)
    .attr("stroke-width", 1.5);
  const ppaLine = d3
    .line<number>()
    .x((_, i) => x(phases[i]))
    .y((d) => yPpa(d));
  ppaG
    .append("path")
    .attr("d", ppaLine(f.ppa))
    .attr("fill", "none")
    .attr("stroke", "#008000")
    .attr("stroke-width", 2)
    .attr("stroke-linejoin", "round");

  // legends
  const lg = f.legend;
  g.append("rect")
    .attr("x", lg.x)
    .attr("y", lg.y)
    .attr("width", lg.w)
    .attr("height", lg.h)
    .attr("rx", 8)
    .attr("fill", "#fff")
    .attr("fill-opacity", 0.8)
    .attr("stroke", "#d4d4d4")
    .attr("stroke-width", 2);
  SERIES_NAMES.forEach((name, k) => {
    const cy = lg.rows[k];
    g.append("line")
      .attr("x1", lg.lineX)
      .attr("x2", lg.lineX + 72)
      .attr("y1", cy)
      .attr("y2", cy)
      .attr("stroke", SERIES_STYLE[k].color)
      .attr("stroke-opacity", SERIES_STYLE[k].opacity)
      .attr("stroke-width", 3);
    g.append("text")
      .attr("x", lg.textX)
      .attr("y", cy + 12.8)
      .attr("font-size", LEGEND_FS)
      .text(name);
  });
  g.append("rect")
    .attr("x", f.emptyLegend.x)
    .attr("y", f.emptyLegend.y)
    .attr("width", 28)
    .attr("height", 28)
    .attr("rx", 5)
    .attr("fill", "#fff")
    .attr("fill-opacity", 0.8)
    .attr("stroke", "#d4d4d4")
    .attr("stroke-width", 2);

  // spines
  const spines = g.append("g").attr("fill", "none").attr("stroke", "#000").attr("stroke-width", 2.5);
  spines.append("rect").attr("x", LEFT).attr("y", f.powerTop).attr("width", RIGHT - LEFT).attr("height", f.split - f.powerTop);
  spines.append("rect").attr("x", LEFT).attr("y", f.split).attr("width", RIGHT - LEFT).attr("height", f.ppaBottom - f.split);

  // ticks
  const ticks = g.append("g").attr("stroke", "#000").attr("stroke-width", 2);
  const digitShift = TICK_FS * 0.3645;
  PHASE_TICKS.forEach((p, k) => {
    const px = x(p);
    ticks.append("line").attr("x1", px).attr("x2", px).attr("y1", f.powerTop).attr("y2", f.powerTop - TICK);
    ticks.append("line").attr("x1", px).attr("x2", px).attr("y1", f.split).attr("y2", f.split + TICK);
    ticks.append("line").attr("x1", px).attr("x2", px).attr("y1", f.ppaBottom).attr("y2", f.ppaBottom + TICK);
    g.append("text")
      .attr("x", px)
      .attr("y", f.timeTickY + digitShift)
      .attr("text-anchor", "middle")
      .attr("font-size", TICK_FS)
      .text(TIME_TICK_LABELS[k]);
    g.append("text")
      .attr("x", px)
      .attr("y", f.phaseTickY + digitShift)
      .attr("text-anchor", "middle")
      .attr("font-size", TICK_FS)
      .text(PHASE_TICK_LABELS[k]);
  });
  f.powerTicks.forEach((v, k) => {
    const py = yPow(v);
    ticks.append("line").attr("x1", LEFT - TICK).attr("x2", LEFT).attr("y1", py).attr("y2", py);
    g.append("text")
      .attr("x", LEFT - TICK - 8)
      .attr("y", py + digitShift)
      .attr("text-anchor", "end")
      .attr("font-size", TICK_FS)
      .text(f.powerTickLabels[k]);
  });
  PPA_TICKS.forEach((v, k) => {
    const py = yPpa(v);
    ticks.append("line").attr("x1", LEFT - TICK).attr("x2", LEFT).attr("y1", py).attr("y2", py);
    g.append("text")
      .attr("x", LEFT - TICK - 8)
      .attr("y", py + digitShift)
      .attr("text-anchor", "end")
      .attr("font-size", TICK_FS)
      .text(PPA_TICK_LABELS[k]);
  });

  // axis labels
  const midX = (LEFT + RIGHT) / 2;
  g.append("text")
    .attr("x", midX)
    .attr("y", f.timeLabelY + 12)
    .attr("text-anchor", "middle")
    .attr("font-size", LABEL_FS)
    .text("Time (ms)");
  g.append("text")
    .attr("x", midX)
    .attr("y", f.phaseLabelY + 12)
    .attr("text-anchor", "middle")
    .attr("font-size", LABEL_FS)
    .text("Pulse Phase");
  const powMid = (f.powerTop + f.split) / 2;
  g.append("text")
    .attr("transform", `translate(${f.powerLabelX},${powMid}) rotate(-90)`)
    .attr("text-anchor", "middle")
    .attr("font-size", LABEL_FS)
    .text("Normalized power");
  const ppaMid = (f.split + f.ppaBottom) / 2;
  g.append("text")
    .attr("transform", `translate(${f.ppaLabelX},${ppaMid}) rotate(-90)`)
    .attr("text-anchor", "middle")
    .attr("font-size", LABEL_FS)
    .text("PPA (degrees)");
}

export default function App() {
  const svgRef = useRef<SVGSVGElement | null>(null);

  useEffect(() => {
    if (!svgRef.current) return;
    const svg = d3.select(svgRef.current);
    svg.selectAll("*").remove();
    drawFigure(svg, TOP_FIG);
    drawFigure(svg, BOTTOM_FIG);
  }, []);

  return (
    <div style={{ position: "absolute", left: 0, top: 0 }}>
      <svg ref={svgRef} width={W} height={H} style={{ display: "block", background: "#fff" }} />
    </div>
  );
}
